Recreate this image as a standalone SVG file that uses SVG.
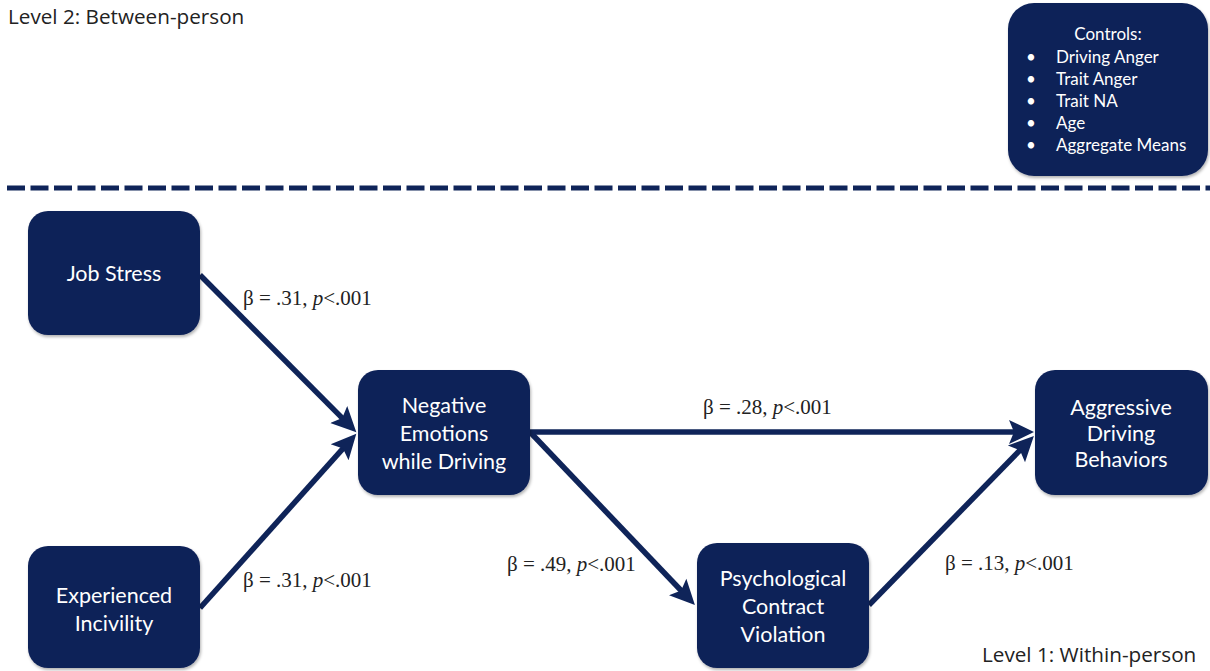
<svg xmlns="http://www.w3.org/2000/svg" width="1210" height="671" viewBox="0 0 1210 671">
<defs>
<style>
.box{fill:#0f2459;filter:url(#sh)}
.nt{font-family:Lato,"Open Sans",sans-serif;font-size:21.5px;fill:#ffffff;text-anchor:middle}
.ct{font-family:Lato,"Open Sans",sans-serif;font-size:17px;fill:#ffffff}
.lv{font-family:"Open Sans","Noto Sans",sans-serif;font-size:20.7px;fill:#222222}
.lb{font-family:"Liberation Serif","Times New Roman",serif;font-size:21px;fill:#222222}
.ar{stroke:#0f2459;stroke-width:5.5;fill:none;marker-end:url(#ah)}
</style>
<filter id="sh" x="-10%" y="-10%" width="120%" height="125%">
<feDropShadow dx="1" dy="2" stdDeviation="1.5" flood-color="#000000" flood-opacity="0.3"/>
</filter>
<marker id="ah" markerUnits="userSpaceOnUse" markerWidth="28" markerHeight="26" viewBox="0 -13 28 26" refX="16" refY="0" orient="auto">
<path d="M0,-12 L25,0 L0,12 L5,0 z" fill="#0f2459"/>
</marker>
</defs>
<rect width="1210" height="671" fill="#ffffff"/>
<text class="lv" x="8" y="24">Level 2: Between-person</text>
<text class="lv" x="982" y="662">Level 1: Within-person</text>
<line x1="7" y1="188" x2="1210" y2="188" stroke="#0f2459" stroke-width="5" stroke-dasharray="18 5.5"/>
<g id="controls">
<rect class="box" x="1008" y="3" width="200" height="173" rx="26"/>
<text class="ct" x="1108" y="40" text-anchor="middle">Controls:</text>
<g class="ct">
<text x="1026" y="63">•</text><text x="1056" y="63">Driving Anger</text>
<text x="1026" y="85">•</text><text x="1056" y="85">Trait Anger</text>
<text x="1026" y="107">•</text><text x="1056" y="107">Trait NA</text>
<text x="1026" y="129">•</text><text x="1056" y="129">Age</text>
<text x="1026" y="151">•</text><text x="1056" y="151">Aggregate Means</text>
</g>
</g>
<g id="connectors">
<line class="ar" x1="200" y1="275" x2="350" y2="425.9"/>
<line class="ar" x1="200" y1="608" x2="350.3" y2="440.4"/>
<line class="ar" x1="530" y1="432" x2="1025" y2="432"/>
<line class="ar" x1="530" y1="432" x2="688.7" y2="598.5"/>
<line class="ar" x1="869" y1="605" x2="1027.6" y2="442.4"/>
</g>
<g id="labels">
<text class="lb" x="243" y="305">β = .31, <tspan font-style="italic">p</tspan>&lt;.001</text>
<text class="lb" x="243" y="587">β = .31, <tspan font-style="italic">p</tspan>&lt;.001</text>
<text class="lb" x="703" y="414">β = .28, <tspan font-style="italic">p</tspan>&lt;.001</text>
<text class="lb" x="507" y="571">β = .49, <tspan font-style="italic">p</tspan>&lt;.001</text>
<text class="lb" x="945" y="570">β = .13, <tspan font-style="italic">p</tspan>&lt;.001</text>
</g>
<g id="job-stress">
<rect class="box" x="28" y="211" width="172" height="124" rx="20"/>
<text class="nt" x="114" y="281">Job Stress</text>
</g>
<g id="experienced-incivility">
<rect class="box" x="28" y="546" width="172" height="122" rx="20"/>
<text class="nt" x="114" y="603">Experienced</text>
<text class="nt" x="114" y="631">Incivility</text>
</g>
<g id="negative-emotions">
<rect class="box" x="358" y="370" width="172" height="125" rx="20"/>
<text class="nt" x="444" y="413">Negative</text>
<text class="nt" x="444" y="441">Emotions</text>
<text class="nt" x="444" y="469">while Driving</text>
</g>
<g id="psychological-contract-violation">
<rect class="box" x="697" y="543" width="172" height="125" rx="20"/>
<text class="nt" x="783" y="586">Psychological</text>
<text class="nt" x="783" y="614">Contract</text>
<text class="nt" x="783" y="642">Violation</text>
</g>
<g id="aggressive-driving-behaviors">
<rect class="box" x="1035" y="370" width="173" height="125" rx="20"/>
<text class="nt" x="1121" y="415">Aggressive</text>
<text class="nt" x="1121" y="441">Driving</text>
<text class="nt" x="1121" y="467">Behaviors</text>
</g>
</svg>
